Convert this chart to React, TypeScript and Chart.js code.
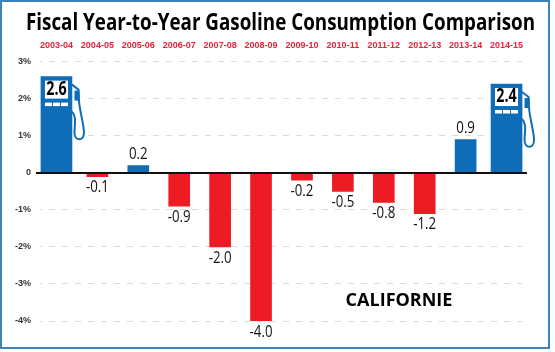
import React, { useEffect, useRef } from "react";
import { Chart, registerables } from "chart.js";

Chart.register(...registerables);

const TITLE = "Fiscal Year-to-Year Gasoline Consumption Comparison";
const REGION = "CALIFORNIE";
const categories = ["2003-04","2004-05","2005-06","2006-07","2007-08","2008-09","2009-10","2010-11","2011-12","2012-13","2013-14","2014-15"];
const pumpValues = [2.6,null,null,null,null,null,null,null,null,null,null,2.4];
const positiveValues = [null,null,0.2,null,null,null,null,null,null,null,0.9,null];
const negativeValues = [null,-0.1,null,-0.9,-2.0,-4.0,-0.2,-0.5,-0.8,-1.1,null,null];
const valueLabels = ["2.6","-0.1","0.2","-0.9","-2.0","-4.0","-0.2","-0.5","-0.8","-1.2","0.9","2.4"];
const yTicks = [3,2,1,0,-1,-2,-3,-4];

const BLUE = "#0f6cb6";
const RED = "#ed1c24";
const SANS = '"Liberation Sans", sans-serif';
const OPEN = '"Open Sans", sans-serif';

function squeezed(ctx: any, text: string, x: number, y: number, ratio: number) {
  ctx.fillText(text, x, y, ctx.measureText(text).width * ratio);
}

const masks = {
  id: "masks",
  beforeDatasetsDraw(chart: any) {
    const { ctx, chartArea, scales } = chart;
    ctx.save();
    ctx.fillStyle = "#fff";
    ctx.fillRect(chartArea.left - 1, chartArea.top - 2, 5, chartArea.height + 4);
    ctx.fillRect(chartArea.right - 5, chartArea.top - 2, 6, chartArea.height + 4);
    pumpValues.forEach((v, i) => {
      if (v == null) return;
      const right = scales.x.getPixelForValue(i) + 15.5;
      const top = scales.y.getPixelForValue(v);
      ctx.fillRect(right, top, 14, 66);
    });
    ctx.restore();
  },
};

const overlay = {
  id: "overlay",
  afterDatasetsDraw(chart: any) {
    const { ctx, chartArea, scales } = chart;
    const x = scales.x, y = scales.y;
    const zero = y.getPixelForValue(0);
    ctx.save();
    ctx.strokeStyle = "#111";
    ctx.lineWidth = 2;
    ctx.beginPath();
    ctx.moveTo(chartArea.left, zero);
    ctx.lineTo(chartArea.right, zero);
    ctx.stroke();

    pumpValues.forEach((v, i) => {
      if (v == null) return;
      const cx = x.getPixelForValue(i);
      const top = y.getPixelForValue(v);
      const left = cx - 15.5, right = cx + 15.5;
      ctx.fillStyle = "#fff";
      ctx.fillRect(left + 4, top + 4, 23, 18);
      [0, 8, 16].forEach((d) => ctx.fillRect(left + 4 + d, top + 26, 7, 3.5));
      ctx.strokeStyle = BLUE;
      ctx.lineWidth = 2;
      ctx.lineJoin = "round";
      ctx.beginPath();
      ctx.moveTo(right, top + 8);
      ctx.lineTo(right + 6.5, top + 13);
      ctx.lineTo(right + 7, top + 24);
      ctx.bezierCurveTo(right + 8, top + 36, right + 12, top + 48, right + 12, top + 56);
      ctx.bezierCurveTo(right + 12, top + 65, right + 2.5, top + 65, right + 2.5, top + 56);
      ctx.bezierCurveTo(right + 2.5, top + 48, right + 5, top + 40, right, top + 35);
      ctx.stroke();
      ctx.fillStyle = BLUE;
      ctx.fillRect(right + 2.5, top + 14, 5, 10);
      ctx.fillStyle = "#000";
      ctx.font = `bold 19px ${OPEN}`;
      ctx.textAlign = "center";
      ctx.textBaseline = "middle";
      squeezed(ctx, valueLabels[i], cx, top + 13, 0.75);
    });

    ctx.fillStyle = "#111";
    ctx.font = `17px ${OPEN}`;
    ctx.textAlign = "center";
    ctx.textBaseline = "middle";
    valueLabels.forEach((label, i) => {
      if (pumpValues[i] != null) return;
      const pos = positiveValues[i];
      const cx = x.getPixelForValue(i);
      const by = y.getPixelForValue(pos != null ? pos : (negativeValues[i] as number));
      squeezed(ctx, label, cx, pos != null ? by - 11 : by + 11, 0.78);
    });

    ctx.fillStyle = "#000";
    ctx.font = `bold 23px ${OPEN}`;
    ctx.fillText(TITLE, 280.5, 23, 509);
    ctx.font = `bold 18px ${OPEN}`;
    ctx.fillText(REGION, 399, 301, 107);
    ctx.restore();
  },
};

const frame = {
  id: "frame",
  afterDraw(chart: any) {
    const { ctx } = chart;
    ctx.save();
    ctx.strokeStyle = "#3a84bb";
    ctx.lineWidth = 2;
    ctx.strokeRect(1, 1, 548, 347);
    ctx.restore();
  },
};

export default function App() {
  const ref = useRef<HTMLCanvasElement>(null);
  useEffect(() => {
    document.body.style.margin = "0";
    const common = { categoryPercentage: 1, barPercentage: 1, grouped: false };
    const chart = new Chart(ref.current!, {
      type: "bar",
      data: {
        labels: categories,
        datasets: [
          { data: pumpValues, backgroundColor: BLUE, barThickness: 31, ...common },
          { data: positiveValues, backgroundColor: BLUE, barThickness: 21, ...common },
          { data: negativeValues, backgroundColor: RED, barThickness: 21, ...common },
        ] as any,
      },
      plugins: [masks, overlay, frame],
      options: {
        responsive: false,
        animation: false,
        layout: { padding: { left: 0, right: 28, top: 37, bottom: 31 } },
        plugins: { legend: { display: false }, tooltip: { enabled: false }, title: { display: false } },
        scales: {
          x: {
            position: "top",
            offset: true,
            grid: { display: false },
            border: { display: false },
            ticks: { color: "#e8213a", font: { size: 9, weight: "bold", family: '"Liberation Sans Narrow", "Liberation Sans", sans-serif' }, padding: 3, maxRotation: 0, autoSkip: false },
          },
          y: {
            min: -4,
            max: 3,
            afterBuildTicks: (axis: any) => { axis.ticks = yTicks.map((value) => ({ value })); },
            grid: { color: "#dcdcdc", lineWidth: 1, drawTicks: false },
            border: { display: false, dash: [6, 7] },
            afterFit: (axis: any) => { axis.width = 36; },
            ticks: {
              color: "#333",
              padding: 5,
              font: { size: 9, weight: "bold", family: SANS },
              callback: (v: any) => (v === 0 ? "0" : `${v}%`),
            },
          },
        },
      } as any,
    });
    return () => chart.destroy();
  }, []);
  return <canvas ref={ref} width={555} height={352} style={{ display: "block" }} />;
}
